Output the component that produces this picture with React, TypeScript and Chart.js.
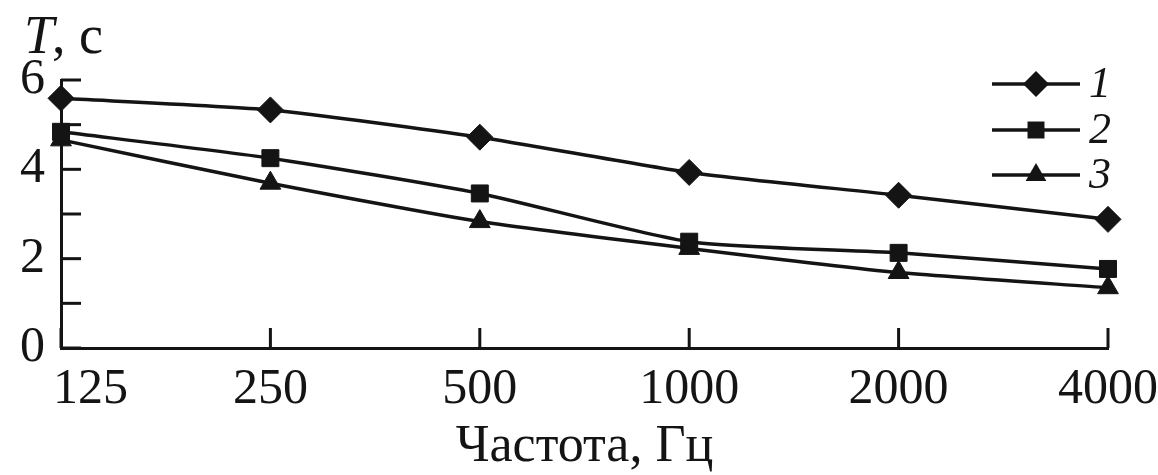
import { useEffect, useRef } from 'react';
import { Chart, registerables } from 'chart.js';

Chart.register(...registerables);

const categories = ['125', '250', '500', '1000', '2000', '4000'];
const series1 = [5.59, 5.33, 4.72, 3.93, 3.42, 2.88];
const series2 = [4.84, 4.25, 3.46, 2.38, 2.13, 1.77];
const series3 = [4.66, 3.69, 2.83, 2.23, 1.69, 1.35];
const seriesNames = ['1', '2', '3'];
const seriesMarkers = ['rectRot', 'rect', 'triangle'];
const markerRadius = [13, 12, 12];
const yMin = 0;
const yMax = 6;
const yTickValues = [0, 1, 2, 3, 4, 5, 6];
const yLabelStep = 2;
const yTitleSymbol = 'T';
const yTitleUnit = ', c';
const xTitle = 'Частота, Гц';

const INK = '#141414';
const SERIF = "'Liberation Serif', 'Times New Roman', 'DejaVu Serif', serif";

function drawMarker(ctx: CanvasRenderingContext2D, style: string, x: number, y: number, r: number) {
  ctx.beginPath();
  if (style === 'rectRot') {
    ctx.moveTo(x, y - r);
    ctx.lineTo(x + r, y);
    ctx.lineTo(x, y + r);
    ctx.lineTo(x - r, y);
  } else if (style === 'rect') {
    const s = r * Math.SQRT1_2;
    ctx.rect(x - s, y - s, 2 * s, 2 * s);
  } else {
    const a = (2 * Math.PI) / 3;
    ctx.moveTo(x, y - r);
    ctx.lineTo(x + Math.sin(a) * r, y - Math.cos(a) * r);
    ctx.lineTo(x + Math.sin(2 * a) * r, y - Math.cos(2 * a) * r);
  }
  ctx.closePath();
  ctx.fill();
}

const decorPlugin = {
  id: 'decor',
  afterDraw(chart: any) {
    const { ctx, chartArea, scales } = chart;
    const xs = scales.x;
    const ys = scales.y;
    ctx.save();
    ctx.strokeStyle = INK;
    ctx.fillStyle = INK;
    ctx.lineWidth = 3;

    // inward tick marks on y axis
    yTickValues.forEach((v) => {
      const yp = ys.getPixelForValue(v);
      ctx.beginPath();
      ctx.moveTo(chartArea.left, yp);
      ctx.lineTo(chartArea.left + 20, yp);
      ctx.stroke();
    });
    // inward tick marks on x axis
    categories.forEach((_, i) => {
      const xp = xs.getPixelForValue(i);
      ctx.beginPath();
      ctx.moveTo(xp, chartArea.bottom);
      ctx.lineTo(xp, chartArea.bottom - 20);
      ctx.stroke();
    });

    // x tick labels
    ctx.font = `50px ${SERIF}`;
    ctx.textBaseline = 'alphabetic';
    categories.forEach((c, i) => {
      const xp = xs.getPixelForValue(i);
      if (i === 0) {
        ctx.textAlign = 'left';
        ctx.fillText(c, xp - 8, chartArea.bottom + 55);
      } else {
        ctx.textAlign = 'center';
        ctx.fillText(c, xp, chartArea.bottom + 55);
      }
    });

    // x title
    ctx.textAlign = 'center';
    ctx.font = `52px ${SERIF}`;
    ctx.fillText(xTitle, (chartArea.left + chartArea.right) / 2, chartArea.bottom + 113);

    // y title
    ctx.textAlign = 'left';
    ctx.font = `italic 54px ${SERIF}`;
    const tx = 24;
    const ty = 53;
    ctx.fillText(yTitleSymbol, tx, ty);
    const tw = ctx.measureText(yTitleSymbol).width;
    ctx.font = `54px ${SERIF}`;
    ctx.fillText(yTitleUnit, tx + tw - 2, ty);

    // legend
    const rows = [chartArea.top + 4, chartArea.top + 50, chartArea.top + 95];
    seriesNames.forEach((name, i) => {
      const yy = rows[i];
      const x1 = chartArea.right - 116;
      const x2 = chartArea.right - 28;
      ctx.lineWidth = 3.5;
      ctx.beginPath();
      ctx.moveTo(x1, yy);
      ctx.lineTo(x2, yy);
      ctx.stroke();
      drawMarker(ctx, seriesMarkers[i], (x1 + x2) / 2, yy, markerRadius[i]);
      ctx.font = `italic 44px ${SERIF}`;
      ctx.textAlign = 'left';
      ctx.textBaseline = 'middle';
      ctx.fillText(name, chartArea.right - 19, yy + 1);
    });
    ctx.restore();
  },
};

export default function App() {
  const canvasRef = useRef<HTMLCanvasElement | null>(null);

  useEffect(() => {
    document.body.style.margin = '0';
    document.body.style.background = '#ffffff';
    const canvas = canvasRef.current;
    if (!canvas) return;
    const allSeries = [series1, series2, series3];
    const chart = new Chart(canvas, {
      type: 'line',
      data: {
        labels: categories,
        datasets: allSeries.map((d, i) => ({
          label: seriesNames[i],
          data: d,
          borderColor: INK,
          backgroundColor: INK,
          borderWidth: 3.5,
          pointStyle: seriesMarkers[i] as any,
          pointRadius: markerRadius[i],
          pointBackgroundColor: INK,
          pointBorderColor: INK,
          pointBorderWidth: 1,
          tension: 0.2,
          fill: false,
          clip: false as any,
        })),
      },
      options: {
        responsive: false,
        animation: false,
        events: [],
        layout: { padding: { top: 80, right: 50, left: 0, bottom: 0 } },
        plugins: {
          legend: { display: false },
          tooltip: { enabled: false },
          title: { display: false },
        },
        scales: {
          x: {
            type: 'category',
            offset: false,
            grid: { display: false, drawTicks: false },
            border: { display: true, color: INK, width: 3 },
            ticks: { display: false, autoSkip: false },
            afterFit: (scale: any) => {
              scale.height = 127;
            },
          },
          y: {
            min: yMin,
            max: yMax,
            grid: { display: false, drawTicks: false },
            border: { display: true, color: INK, width: 3 },
            ticks: {
              stepSize: 1,
              autoSkip: false,
              padding: 16,
              color: INK,
              font: { family: SERIF, size: 50 },
              callback: (v: any) => (Number(v) % yLabelStep === 0 ? String(v) : ''),
            },
            afterFit: (scale: any) => {
              scale.width = 61;
            },
          },
        },
      },
      plugins: [decorPlugin],
    });
    return () => chart.destroy();
  }, []);

  return (
    <div style={{ width: 1158, height: 475, background: '#ffffff' }}>
      <canvas ref={canvasRef} width={1158} height={475} style={{ display: 'block', width: 1158, height: 475 }} />
    </div>
  );
}
